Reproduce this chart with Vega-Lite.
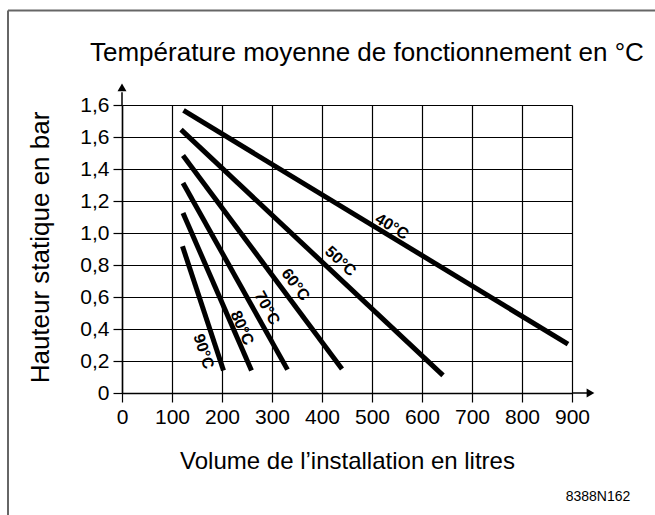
{
  "$schema": "https://vega.github.io/schema/vega-lite/v6.json",
  "width": 450,
  "height": 288,
  "autosize": "none",
  "padding": {"left": 122, "top": 105, "right": 83, "bottom": 122},
  "background": "white",
  "config": {
    "font": "Liberation Sans",
    "view": {"stroke": null},
    "axis": {
      "grid": true,
      "gridColor": "black",
      "gridOpacity": 1,
      "gridWidth": 1.2,
      "domainColor": "black",
      "domainWidth": 1.5,
      "tickColor": "black",
      "tickWidth": 1.2,
      "tickSize": 9,
      "labelColor": "black",
      "labelFontSize": 21,
      "labelPadding": 4,
      "labelOverlap": false,
      "labelFlush": false,
      "titleColor": "black",
      "titleFontWeight": "normal",
      "titleFontSize": 24
    }
  },
  "title": {
    "text": "Température moyenne de fonctionnement en °C",
    "anchor": "start",
    "frame": "group",
    "dx": -32,
    "dy": 78,
    "offset": 22,
    "fontSize": 26,
    "fontWeight": "normal",
    "color": "black"
  },
  "datasets": {
    "curves": [
      {"temp": "40°C", "vol": 123, "bar": 1.766},
      {"temp": "40°C", "vol": 892, "bar": 0.305},
      {"temp": "50°C", "vol": 118, "bar": 1.646},
      {"temp": "50°C", "vol": 642, "bar": 0.11},
      {"temp": "60°C", "vol": 122, "bar": 1.485},
      {"temp": "60°C", "vol": 440, "bar": 0.15},
      {"temp": "70°C", "vol": 122, "bar": 1.313},
      {"temp": "70°C", "vol": 331, "bar": 0.146},
      {"temp": "80°C", "vol": 122, "bar": 1.125},
      {"temp": "80°C", "vol": 259, "bar": 0.141},
      {"temp": "90°C", "vol": 121, "bar": 0.917},
      {"temp": "90°C", "vol": 203, "bar": 0.141}
    ],
    "curveLabels": [
      {"temp": "40°C", "vol": 540, "bar": 1.04},
      {"temp": "50°C", "vol": 437, "bar": 0.823},
      {"temp": "60°C", "vol": 347, "bar": 0.677},
      {"temp": "70°C", "vol": 290, "bar": 0.531},
      {"temp": "80°C", "vol": 240, "bar": 0.406},
      {"temp": "90°C", "vol": 163, "bar": 0.26}
    ],
    "axisExt": [
      {"part": "x", "vol": 900, "vol2": 930, "bar": 0, "bar2": 0},
      {"part": "y", "vol": 0, "vol2": 0, "bar": 1.8, "bar2": 1.88}
    ],
    "arrows": [
      {"part": "x", "vol": 937, "bar": 0},
      {"part": "y", "vol": 0, "bar": 1.91}
    ],
    "frame": [
      {"side": "left", "vol": -228, "vol2": -228, "bar": 2.39, "bar2": -0.8},
      {"side": "top", "vol": -228, "vol2": 1100, "bar": 2.39, "bar2": 2.39}
    ],
    "note": [
      {"text": "8388N162", "vol": 952, "bar": -0.65}
    ]
  },
  "layer": [
    {
      "data": {"name": "curves"},
      "mark": {"type": "line", "color": "black", "strokeWidth": 5, "strokeCap": "butt"},
      "encoding": {
        "x": {
          "field": "vol",
          "type": "quantitative",
          "scale": {"domain": [0, 900], "nice": false},
          "axis": {
            "values": [0, 100, 200, 300, 400, 500, 600, 700, 800, 900],
            "format": "d",
            "title": "Volume de l’installation en litres",
            "titleY": 75,
            "titleBaseline": "alphabetic"
          }
        },
        "y": {
          "field": "bar",
          "type": "quantitative",
          "scale": {"domain": [0, 1.8], "nice": false},
          "axis": {
            "tickCount": 9,
            "labelExpr": "datum.value == 0 ? '0' : (datum.value > 1.7 ? '1,6' : replace(format(datum.value, '.1f'), '.', ','))",
            "title": "Hauteur statique en bar",
            "titleFontSize": 26,
            "titleX": -82,
            "titleY": 142,
            "titleBaseline": "middle",
            "titleAlign": "center"
          }
        },
        "detail": {"field": "temp"}
      }
    },
    {
      "data": {"name": "curveLabels"},
      "mark": {"type": "text", "fontSize": 16, "fontWeight": "bold", "color": "black", "align": "center", "baseline": "middle"},
      "encoding": {
        "x": {"field": "vol", "type": "quantitative"},
        "y": {"field": "bar", "type": "quantitative"},
        "text": {"field": "temp"},
        "angle": {
          "field": "temp",
          "type": "nominal",
          "scale": {
            "type": "ordinal",
            "domain": ["40°C", "50°C", "60°C", "70°C", "80°C", "90°C"],
            "range": [31, 43, 53, 61, 66, 72]
          },
          "legend": null
        }
      }
    },
    {
      "data": {"name": "axisExt"},
      "mark": {"type": "rule", "color": "black", "strokeWidth": 1.5},
      "encoding": {
        "x": {"field": "vol", "type": "quantitative"},
        "x2": {"field": "vol2"},
        "y": {"field": "bar", "type": "quantitative"},
        "y2": {"field": "bar2"}
      }
    },
    {
      "data": {"name": "frame"},
      "mark": {"type": "rule", "color": "#666666", "strokeWidth": 2},
      "encoding": {
        "x": {"field": "vol", "type": "quantitative"},
        "x2": {"field": "vol2"},
        "y": {"field": "bar", "type": "quantitative"},
        "y2": {"field": "bar2"}
      }
    },
    {
      "data": {"name": "arrows"},
      "mark": {"type": "point", "filled": true, "color": "black", "opacity": 1, "size": 80},
      "encoding": {
        "x": {"field": "vol", "type": "quantitative"},
        "y": {"field": "bar", "type": "quantitative"},
        "shape": {
          "field": "part",
          "type": "nominal",
          "scale": {"domain": ["x", "y"], "range": ["triangle-right", "triangle-up"]},
          "legend": null
        }
      }
    },
    {
      "data": {"name": "note"},
      "mark": {"type": "text", "fontSize": 14, "color": "black", "align": "center", "baseline": "middle"},
      "encoding": {
        "x": {"field": "vol", "type": "quantitative"},
        "y": {"field": "bar", "type": "quantitative"},
        "text": {"field": "text"}
      }
    }
  ]
}
